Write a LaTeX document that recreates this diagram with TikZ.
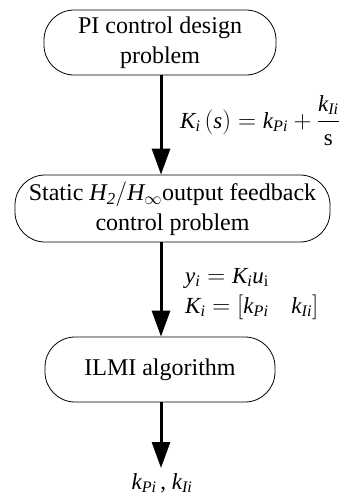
\documentclass[tikz,border=0pt]{standalone}
\usepackage{amsmath}
\usepackage{fontspec}
\setmainfont{Liberation Serif}
\usetikzlibrary{arrows.meta}
\tikzset{
  flowbox/.style={draw, line width=0.8pt, rounded corners=30pt, align=center, inner sep=0pt},
  flowarrow/.style={line width=3pt, -{Triangle[length=26pt,width=18pt]}},
  lbl/.style={inner sep=0pt, font=\fontsize{23}{28}\selectfont}
}
\begin{document}
\begin{tikzpicture}[x=1pt,y=-1pt,font=\fontsize{24}{30}\selectfont]
\useasboundingbox (0,0) rectangle (343,499);
\node[flowbox, minimum width=232pt, minimum height=65pt] (b1) at (160,42.5) {PI control design\\problem};
\node[flowbox, minimum width=315pt, minimum height=67pt] (b2) at (172.5,208.5) {Static $\mathit{H}_{\mathit{2}}/\mathit{H}_{\infty}$output feedback\\control problem};
\node[flowbox, minimum width=230pt, minimum height=65pt] (b3) at (160,369.5) {ILMI algorithm};
\coordinate (out) at (161,468);
\draw[flowarrow] (b1.south -| out) -- (b2.north -| out);
\draw[flowarrow] (b2.south -| out) -- (b3.north -| out);
\draw[flowarrow] (b3.south -| out) -- (out);
\node[lbl, anchor=base west] (l1) at (180,128) {$\mathit{K}_{\mathit{i}}\,(\mathit{s}) = \mathit{k}_{\mathit{Pi}} + \dfrac{\mathit{k}_{\mathit{Ii}}}{\mathrm{s}}$};
\node[lbl, anchor=base west] (l2) at (185,283) {$\mathit{y}_{\mathit{i}} = \mathit{K}_{\mathit{i}}\mathit{u}_{\mathrm{i}}$};
\node[lbl, anchor=base west] (l3) at (185,313) {$\mathit{K}_{\mathit{i}} =[\mathit{k}_{\mathit{Pi}}\quad \mathit{k}_{\mathit{Ii}}]$};
\node[lbl, anchor=base] (l4) at (162,489) {$\mathit{k}_{\mathit{Pi}}$\,,\ $\mathit{k}_{\mathit{Ii}}$};
\end{tikzpicture}
\end{document}
